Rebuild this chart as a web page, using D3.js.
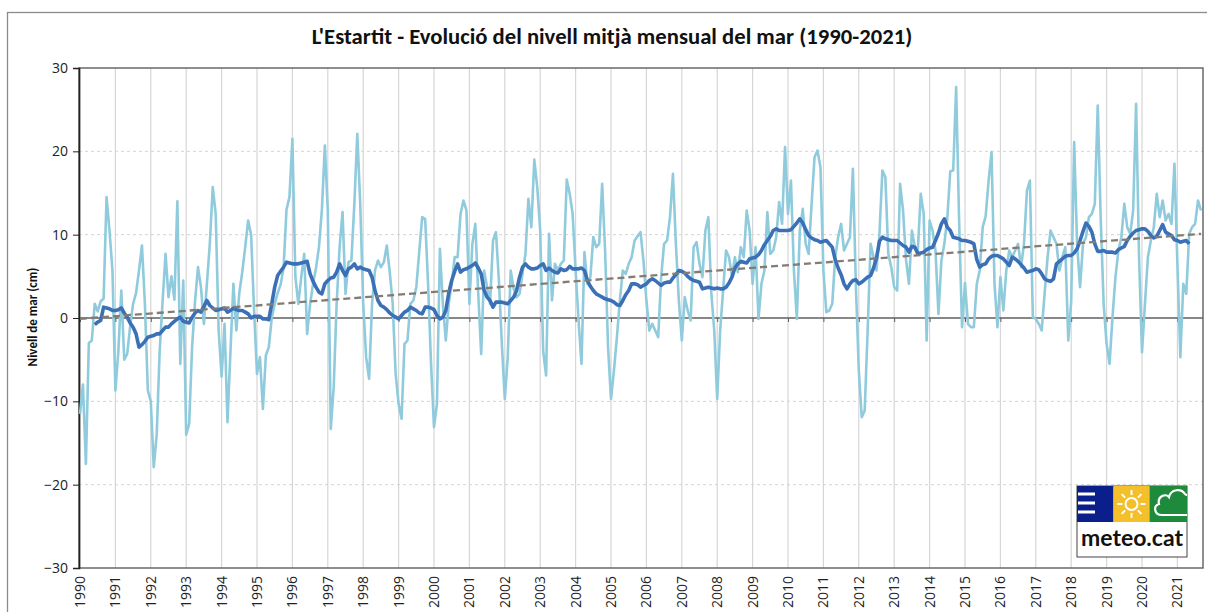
<!DOCTYPE html>
<html lang="ca">
<head>
<meta charset="utf-8">
<title>L'Estartit - nivell mitjà mensual del mar</title>
<script src="https://d3js.org/d3.v7.min.js"></script>
<style>
  body { margin: 0; background: #fff; font-family: "Carlito", "Lato", "Open Sans", sans-serif; }
  svg { display: block; }
</style>
</head>
<body>
<script>
// monthly mean sea level (cm), Jan 1990 .. Sep 2021, one row per year
var monthly = [
  -11.5, -8, -17.5, -3, -2.7, 1.7, 0.8, 2, 2.3, 14.5, 10.5, 5.7,
  -8.7, -4, 3.3, -5, -4.3, -1, 1.7, 3, 5.7, 8.7, 1.7, -8.7,
  -10, -17.9, -14, -4, 2, 7.7, 2.5, 5, 2.2, 14, -5.5, 4.5,
  -14, -12.7, -3.5, 2, 6.1, 3.7, -0.7, 4, 8.9, 15.7, 12.5, -1.5,
  -7, -0.7, -12.5, -4, 4.1, -1.5, 3, 5.5, 8.5, 11.7, 10, 1,
  -6.7, -4.7, -10.9, -4.5, -3.5, 0, 1.7, 3, 4, 6, 13, 14.5,
  21.5, 5, 1.7, 4.9, 7.7, -1.9, 1.7, 4.1, 6, 8.5, 13, 20.7,
  12.9, -13.3, -8.3, 1.7, 8.5, 12.7, 2.9, 6.7, 6.9, 13.7, 22.1, 13.7,
  1.7, -4.7, -7.3, 1.7, 5.7, 6.9, 6.1, 6.7, 8.7, 5.5, 1.7, -6.7,
  -10.3, -12.1, -3.1, -2.7, 1.7, 2.1, 3.7, 8, 12.1, 11.9, 4, -5.5,
  -13.1, -10.3, 8.3, 1.7, -2.7, 1.7, 4.1, 7.3, 7.3, 12.5, 14.1, 12.9,
  1.7, 8.9, 11.3, 2.9, -4.3, 5.7, 3.7, 1.7, 9.3, 10.3, 4.5, -3.1,
  -9.7, -4.7, 5.7, 3.5, 2.5, 2.9, 5.3, 7.7, 14.3, 10.9, 19, 15.7,
  10.5, -3.9, -6.9, 10.1, 2.1, 6.5, 5.7, 6.5, 6.9, 16.6, 14.9, 12.5,
  5.7, -0.3, -5.5, 7.9, 4.1, 4.9, 9.7, 8.5, 8.9, 16.1, 8.1, -3.5,
  -9.7, -6.3, -2.3, 2.1, 5.7, 5.3, 6.5, 7.3, 9.3, 9.8, 10.3, 6.9,
  2.1, -1.5, -0.7, -1.5, -2.3, 4.9, 8.9, 9.3, 12.1, 17.3, 8.9, 2.1,
  -2.7, 2.5, 0.9, -0.3, 8.5, 9.1, 6.5, 4.9, 10.5, 12.1, 3, -1.5,
  -9.7, -1.5, 3.3, 8.1, 7.3, 5, 7.3, 5.5, 8.5, 7.3, 12.9, 10.5,
  4.1, 8.5, -0.1, 4.1, 5.7, 12.7, 7.7, 8.1, 9.7, 13.9, 11.3, 20.5,
  12.5, 16.5, 5.7, -0.1, 10.5, 13.1, 8.9, 7.7, 13.7, 19.3, 20.1, 18.1,
  5.7, 0.7, 0.9, 1.7, 7.3, 9.7, 11.3, 8.1, 8.9, 9.7, 17.9, 4,
  -6.3, -11.9, -11.1, -1.5, 8.9, 7.3, 5.7, 10.1, 17.7, 16.9, 7.7, 6.1,
  3.7, 3.3, 16.1, 12.9, 7, 4.1, 10.5, 8.5, 8.1, 14.9, 12.5, -2.7,
  11.7, 10.5, 8.1, 0.5, 6.9, 8.9, 12, 17.6, 17.7, 27.7, 11.7, -1.1,
  4.2, -0.7, -1.1, -1.1, 4.1, 5.7, 10.9, 12.2, 16.5, 19.9, 4.1, -1.1,
  4.9, 0.9, 5.7, 8.1, 7.3, 8.1, 8.9, 6.1, 8.9, 15.3, 16.5, 0.1,
  -0.1, -0.7, -1.5, 3, 7.3, 10.5, 9.7, 8.9, 5.7, 7.3, 8.5, -2.7,
  2, 21.1, 8.9, 3.7, 8.9, 9.7, 12.1, 12.5, 13.7, 25.5, 12, 1.7,
  -3.1, -5.5, 0.1, 4.9, 8.1, 9.7, 13.7, 10.9, 10.1, 12.9, 25.7, 7.3,
  -4.1, 1.7, 7.3, 9.3, 10.9, 14.9, 12.1, 14.1, 11.7, 12.5, 11.3, 18.5,
  6.5, -4.7, 4.1, 2.9, 10.1, 10.9, 11.3, 14.1, 12.9
];

// 12-month moving average (cm), first value is Jun 1990 (month index 5)
var avgStart = 5;
var movingAvg = [
  -0.8, -0.5, -0.3, 1.3, 1.2, 1.1, 0.9, 0.9, 1.0, 1.2, 0.6, 0.1,
  -0.6, -1.1, -1.9, -3.5, -3.2, -2.8, -2.3, -2.2, -2.1, -1.9, -1.9, -1.5,
  -1.1, -1.1, -0.7, -0.4, -0.1, 0.1, -0.4, -0.5, -0.6, 0.1, 0.6, 0.9,
  0.7, 1.4, 2.1, 1.5, 1.2, 0.9, 1.0, 1.1, 1.2, 0.7, 0.9, 1.2,
  1.0, 0.9, 0.9, 0.7, 0.5, 0.0, 0.2, 0.2, 0.2, -0.1, -0.1, -0.2,
  1.7, 3.7, 5.1, 5.6, 6.1, 6.7, 6.6, 6.5, 6.5, 6.5, 6.6, 6.7,
  6.8, 5.3, 4.4, 3.7, 3.1, 2.9, 4.1, 4.5, 4.8, 4.9, 5.5, 6.5,
  5.7, 5.1, 5.9, 6.1, 6.5, 5.9, 6.1, 5.9, 5.8, 5.7, 4.9, 3.3,
  2.1, 1.5, 1.3, 1.0, 0.6, 0.3, 0.1, -0.1, 0.3, 0.7, 0.9, 1.3,
  1.1, 0.9, 0.6, 0.5, 1.3, 1.3, 1.2, 1.0, 0.3, -0.1, 0.1, 0.9,
  3.0, 4.5, 5.6, 6.5, 5.5, 5.8, 5.9, 6.1, 6.3, 6.6, 6.0, 5.3,
  3.3, 2.5, 2.1, 1.3, 1.9, 1.9, 1.9, 1.8, 1.7, 2.1, 2.5, 3.3,
  4.9, 6.1, 6.5, 6.1, 5.9, 5.9, 6.0, 6.3, 6.5, 5.7, 6.0, 5.7,
  5.5, 5.4, 5.9, 5.7, 5.8, 6.2, 5.9, 5.9, 5.9, 6.0, 5.7, 4.5,
  3.8, 3.3, 2.9, 2.7, 2.5, 2.3, 2.2, 2.1, 1.9, 1.6, 1.5, 2.1,
  2.8, 3.3, 4.1, 4.1, 4.0, 3.7, 3.9, 4.1, 4.5, 4.7, 4.5, 4.2,
  3.9, 4.2, 4.3, 4.3, 4.8, 5.2, 5.7, 5.6, 5.4, 5.0, 4.7, 4.5,
  4.4, 4.3, 3.5, 3.6, 3.7, 3.6, 3.5, 3.6, 3.5, 3.5, 3.7, 4.2,
  4.9, 6.0, 6.5, 6.8, 6.7, 6.6, 7.1, 7.2, 7.3, 7.6, 8.1, 8.8,
  9.3, 9.8, 10.5, 10.7, 10.5, 10.5, 10.5, 10.5, 10.6, 11.0, 11.4, 11.9,
  11.4, 10.6, 9.9, 9.6, 9.4, 9.3, 9.1, 9.2, 9.3, 8.9, 8.5, 7.0,
  6.0, 5.2, 4.1, 3.5, 4.1, 4.5, 4.6, 4.1, 4.3, 4.6, 4.9, 5.1,
  6.0, 7.2, 9.2, 9.7, 9.5, 9.4, 9.3, 9.3, 9.3, 9.0, 8.7, 8.5,
  7.9, 8.6, 8.5, 7.7, 7.8, 7.9, 8.2, 8.4, 8.5, 9.3, 10.2, 11.3,
  11.9, 10.9, 10.5, 9.7, 9.6, 9.5, 9.3, 9.3, 9.2, 9.1, 8.9, 7.0,
  6.1, 6.4, 6.5, 7.1, 7.4, 7.5, 7.5, 7.3, 7.1, 6.7, 6.3, 7.3,
  7.1, 6.8, 6.4, 6.0, 5.5, 5.6, 5.7, 5.9, 5.8, 5.3, 4.7, 4.5,
  4.4, 4.7, 6.5, 6.8, 7.1, 7.4, 7.5, 7.5, 7.8, 8.3, 9.3, 10.4,
  11.4, 11.0, 10.3, 8.9, 8.0, 8.0, 8.1, 7.9, 7.9, 7.9, 7.8, 8.2,
  8.4, 8.6, 9.3, 9.8, 10.2, 10.5, 10.6, 10.7, 10.7, 10.4, 9.9, 9.6,
  9.8, 10.5, 11.2, 10.3, 10.1, 9.9, 9.4, 9.3, 9.1, 9.2, 9.3, 8.9
];

// linear trend: [month index, cm]
var trend = [[0, -0.1], [380, 10.1]];

var yTicks = [-30, -20, -10, 0, 10, 20, 30];
var years = ["1990","1991","1992","1993","1994","1995","1996","1997","1998","1999",
             "2000","2001","2002","2003","2004","2005","2006","2007","2008","2009",
             "2010","2011","2012","2013","2014","2015","2016","2017","2018","2019",
             "2020","2021"];

var width = 1207, height = 612;
var plotLeft = 79, plotRight = 1203, plotTop = 68, plotBottom = 568;

var svg = d3.select("body").append("svg")
    .attr("width", width)
    .attr("height", height);

// chart frame
svg.append("rect")
    .attr("x", 7.5).attr("y", 12.5)
    .attr("width", 1215).attr("height", 620)
    .attr("fill", "none")
    .attr("stroke", "#8c8c8c")
    .attr("stroke-width", 1.3);

var x = d3.scaleLinear().domain([0, 380]).range([80, 1201]);
var y = d3.scaleLinear().domain([-30, 30]).range([plotBottom, plotTop]);

// vertical gridlines, one per year
svg.append("g").selectAll("line")
    .data(years)
    .enter().append("line")
    .attr("x1", function(d, i) { return x(i * 12); })
    .attr("x2", function(d, i) { return x(i * 12); })
    .attr("y1", plotTop).attr("y2", plotBottom)
    .attr("stroke", "#d6d6d6")
    .attr("stroke-width", 1.2);

// horizontal dashed gridlines
svg.append("g").selectAll("line")
    .data(yTicks.filter(function(d) { return d !== 0 && Math.abs(d) !== 30; }))
    .enter().append("line")
    .attr("x1", plotLeft).attr("x2", plotRight)
    .attr("y1", function(d) { return y(d); })
    .attr("y2", function(d) { return y(d); })
    .attr("stroke", "#d4d4d4")
    .attr("stroke-width", 1)
    .attr("stroke-dasharray", "3,3");

// plot border (top, right, bottom)
svg.append("rect")
    .attr("x", plotLeft).attr("y", plotTop)
    .attr("width", plotRight - plotLeft).attr("height", plotBottom - plotTop)
    .attr("fill", "none")
    .attr("stroke", "#5f5f5f")
    .attr("stroke-width", 1.4);

// zero line with year ticks
var xAxis = d3.axisBottom(x)
    .tickValues(years.map(function(d, i) { return i * 12; }))
    .tickSize(4)
    .tickFormat("");
var zeroAxis = svg.append("g")
    .attr("transform", "translate(0," + y(0) + ")")
    .call(xAxis);
zeroAxis.select(".domain")
    .attr("d", "M" + plotLeft + ",0H" + plotRight)
    .attr("stroke", "#5f5f5f")
    .attr("stroke-width", 1.5);
zeroAxis.selectAll(".tick line").attr("stroke", "#5f5f5f");

// y axis
var yAxis = svg.append("g")
    .attr("transform", "translate(" + plotLeft + ",0)")
    .call(d3.axisLeft(y).tickValues(yTicks).tickSize(6).tickPadding(5));
yAxis.select(".domain").attr("stroke", "#222").attr("stroke-width", 1.6);
yAxis.selectAll(".tick line").attr("stroke", "#222");
yAxis.selectAll("text")
    .attr("font-family", "'Open Sans', Lato, sans-serif")
    .attr("font-size", 14)
    .attr("fill", "#222");

// x labels at the bottom, rotated
svg.append("g").selectAll("text")
    .data(years)
    .enter().append("text")
    .attr("transform", function(d, i) { return "translate(" + x(i * 12) + ",576) rotate(-90)"; })
    .attr("text-anchor", "end")
    .attr("dy", "0.36em")
    .attr("font-family", "'Open Sans', Lato, sans-serif")
    .attr("font-size", 14)
    .attr("fill", "#222")
    .text(function(d) { return d; });

// monthly series
var line = d3.line()
    .x(function(d, i) { return x(i); })
    .y(function(d) { return y(d); });

svg.append("path")
    .datum(monthly)
    .attr("fill", "none")
    .attr("stroke", "#8fcbdc")
    .attr("stroke-width", 2.6)
    .attr("stroke-linejoin", "round")
    .attr("d", line);

// moving average
var avgLine = d3.line()
    .x(function(d, i) { return x(i + avgStart); })
    .y(function(d) { return y(d); });

svg.append("path")
    .datum(movingAvg)
    .attr("fill", "none")
    .attr("stroke", "#3b70b7")
    .attr("stroke-width", 3.6)
    .attr("stroke-linejoin", "round")
    .attr("d", avgLine);

// trend
svg.append("path")
    .datum(trend)
    .attr("fill", "none")
    .attr("stroke", "#857b72")
    .attr("stroke-width", 2.3)
    .attr("stroke-dasharray", "7,4")
    .attr("d", d3.line().x(function(d) { return x(d[0]); }).y(function(d) { return y(d[1]); }));

// title
var title = svg.append("text")
    .attr("x", 612).attr("y", 44)
    .attr("text-anchor", "middle")
    .attr("font-size", 18)
    .attr("font-weight", "bold")
    .attr("fill", "#111")
    .text("L'Estartit - Evolució del nivell mitjà mensual del mar (1990-2021)");
var tw = title.node().getComputedTextLength();
title.attr("font-size", 18 * 601 / tw);

// y label
svg.append("text")
    .attr("transform", "translate(37,317) rotate(-90)")
    .attr("text-anchor", "middle")
    .attr("font-size", 13)
    .attr("font-weight", "bold")
    .attr("fill", "#111")
    .text("Nivell de mar (cm)");

// meteo.cat logo
var logo = svg.append("g").attr("transform", "translate(1077,486)");
logo.append("rect").attr("width", 110).attr("height", 71)
    .attr("fill", "#fff").attr("stroke", "#444").attr("stroke-width", 1);
logo.append("rect").attr("width", 36.5).attr("height", 36).attr("fill", "#0b1f8c");
logo.append("rect").attr("x", 36.5).attr("width", 36).attr("height", 36).attr("fill", "#f3c02b");
logo.append("rect").attr("x", 72.5).attr("width", 37.5).attr("height", 36).attr("fill", "#1d8a3c");
[8, 17, 26].forEach(function(v) {
  logo.append("rect").attr("x", 1).attr("y", v - 1.5).attr("width", 17).attr("height", 3).attr("fill", "#fff");
});
var sun = logo.append("g").attr("transform", "translate(54.5,18)");
sun.append("circle").attr("r", 6).attr("fill", "none").attr("stroke", "#fff").attr("stroke-width", 2);
d3.range(8).forEach(function(k) {
  var a = k * Math.PI / 4;
  sun.append("line")
    .attr("x1", 9 * Math.cos(a)).attr("y1", 9 * Math.sin(a))
    .attr("x2", 14 * Math.cos(a)).attr("y2", 14 * Math.sin(a))
    .attr("stroke", "#fff").attr("stroke-width", 2);
});
logo.append("path")
    .attr("d", "M110,29 H85 C77,29 76,20 82,18 C80,10 89,7 92,11 C94,3 104,2 108,8 C109,9 110,9 110,9")
    .attr("fill", "none").attr("stroke", "#fff").attr("stroke-width", 2.2);
logo.append("text")
    .attr("x", 55).attr("y", 60)
    .attr("text-anchor", "middle")
    .attr("font-family", "Lato, 'Open Sans', sans-serif")
    .attr("font-size", 23)
    .attr("font-weight", "bold")
    .attr("fill", "#111")
    .text("meteo.cat");
</script>
</body>
</html>
